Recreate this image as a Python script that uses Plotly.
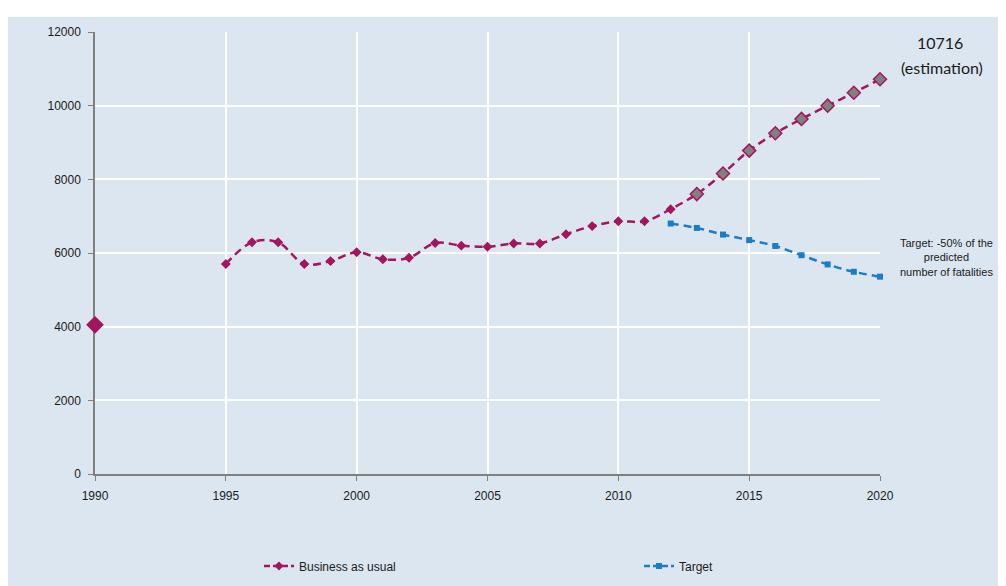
import plotly.graph_objects as go

years = list(range(1990, 2021))
bau_values = [4050, None, None, None, None,
              5700, 6290, 6290, 5700, 5780, 6020, 5830, 5870, 6270, 6200, 6170,
              6260, 6260, 6510, 6730, 6860, 6860, 7190, 7600, 8160, 8780, 9250,
              9640, 10000, 10350, 10716]
target_years = list(range(2012, 2021))
target_values = [6800, 6680, 6500, 6350, 6190, 5940, 5690, 5490, 5358]
x_ticks = [1990, 1995, 2000, 2005, 2010, 2015, 2020]
y_ticks = [0, 2000, 4000, 6000, 8000, 10000, 12000]

MAG = "#a3165e"
BLUE = "#1b7dc3"
GRAY = "#808080"
PANEL = "#dce6f1"
TICKFONT = dict(family="Liberation Sans, Arial", size=12, color="#1a1a1a")

# per-point marker styling for business-as-usual
sizes, fills = [], []
for yr in years:
    if yr == 1990:
        sizes.append(12); fills.append(MAG)
    elif yr >= 2013:
        sizes.append(10); fills.append(GRAY)
    else:
        sizes.append(6); fills.append(MAG)

fig = go.Figure()
fig.add_trace(go.Scatter(
    x=years, y=bau_values, mode="lines+markers", showlegend=False,
    connectgaps=False, cliponaxis=False,
    line=dict(color=MAG, width=2.5, dash="8px,5px", shape="spline", smoothing=1.0),
    marker=dict(symbol="diamond", size=sizes, color=fills, opacity=1,
                line=dict(color=MAG, width=1.5)),
))
fig.add_trace(go.Scatter(
    x=target_years, y=target_values, mode="lines+markers", showlegend=False,
    cliponaxis=False,
    line=dict(color=BLUE, width=2.5, dash="8px,5px", shape="spline", smoothing=1.0),
    marker=dict(symbol="square", size=6, color=BLUE, opacity=1),
))
# legend entries
fig.add_trace(go.Scatter(
    x=[None], y=[None], mode="lines+markers", name="Business as usual", legend="legend",
    line=dict(color=MAG, width=2.5, dash="6px,3px"),
    marker=dict(symbol="diamond", size=7, color=MAG),
))
fig.add_trace(go.Scatter(
    x=[None], y=[None], mode="lines+markers", name="Target", legend="legend2",
    line=dict(color=BLUE, width=2.5, dash="6px,3px"),
    marker=dict(symbol="square", size=6, color=BLUE),
))

# page body margin offsets the figure by 8px; coordinates below are figure pixels
L, R, T, B = 87, 134, 24, 120
W, H = 1006, 586
pw, ph = W - L - R, H - T - B

def px_x(p):
    return (p - L) / pw

def px_y(p):
    return (H - B - p) / ph

fig.add_annotation(x=px_x(932), y=px_y(34), xref="paper", yref="paper",
                   text="10716", showarrow=False, xanchor="center", yanchor="middle",
                   font=dict(family="Lato, Open Sans, sans-serif", size=16, color="#1a1a1a"))
fig.add_annotation(x=px_x(934), y=px_y(59), xref="paper", yref="paper",
                   text="(estimation)", showarrow=False, xanchor="center", yanchor="middle",
                   font=dict(family="Lato, Open Sans, sans-serif", size=16, color="#1a1a1a"))
fig.add_annotation(x=px_x(938), y=px_y(250), xref="paper", yref="paper",
                   text="Target: -50% of the<br>predicted<br>number of fatalities",
                   showarrow=False, xanchor="center", yanchor="middle", align="center",
                   font=dict(family="Liberation Sans, Arial", size=11, color="#1a1a1a"))

fig.add_shape(type="rect", xref="paper", yref="paper", x0=px_x(-5), x1=px_x(W + 5),
              y0=px_y(9), y1=px_y(-5), fillcolor="white", line=dict(width=0), layer="below")

fig.update_layout(
    width=W, height=H,
    margin=dict(l=L, r=R, t=T, b=B, autoexpand=False),
    paper_bgcolor=PANEL, plot_bgcolor=PANEL,
    legend=dict(orientation="h", x=px_x(251), y=px_y(558), xanchor="left", yanchor="middle",
                bgcolor="rgba(0,0,0,0)", font=TICKFONT),
    legend2=dict(orientation="h", x=px_x(631), y=px_y(558), xanchor="left", yanchor="middle",
                 bgcolor="rgba(0,0,0,0)", font=TICKFONT),
    xaxis=dict(range=[1990, 2020], tickvals=x_ticks, ticktext=[str(v) for v in x_ticks],
               showgrid=True, gridcolor="white", gridwidth=1.5, zeroline=False,
               showline=True, linecolor="#808080", linewidth=1.5, layer="below traces",
               ticks="outside", ticklen=5, tickcolor="#808080", tickfont=TICKFONT,
               ticklabelstandoff=5),
    yaxis=dict(range=[0, 12000], tickvals=y_ticks, ticktext=[str(v) for v in y_ticks],
               showgrid=True, gridcolor="white", gridwidth=1.5, zeroline=False,
               showline=True, linecolor="#808080", linewidth=1.5, layer="below traces",
               ticks="outside", ticklen=5, tickcolor="#808080", tickfont=TICKFONT,
               ticklabelstandoff=5),
)

fig.write_html("out.html")
